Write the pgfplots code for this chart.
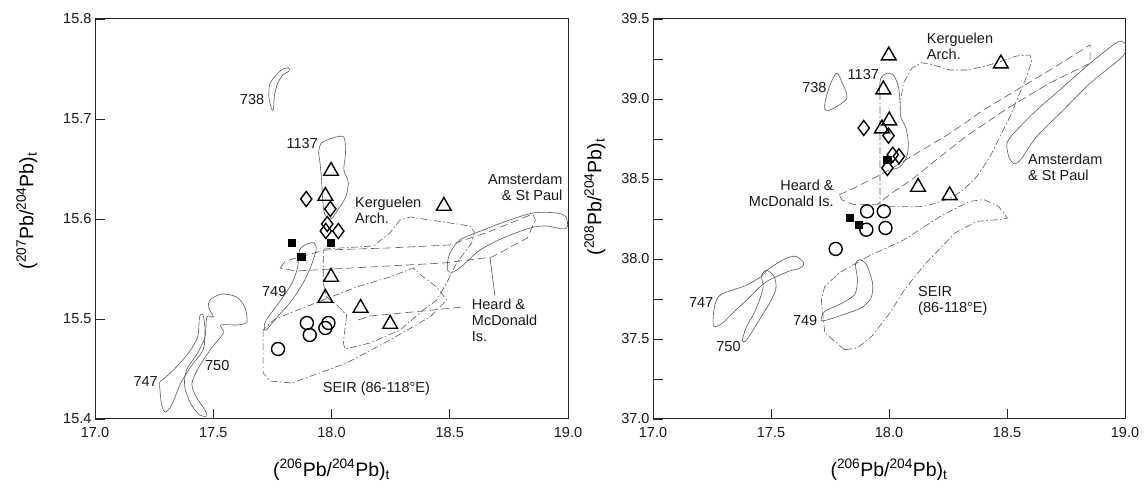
\documentclass[border=0pt]{standalone}
\usepackage{fontspec}
\setmainfont{Liberation Sans}
\usepackage{pgfplots}
\pgfplotsset{compat=1.18}
\begin{document}
\begin{tikzpicture}[
  field/.style={line width=0.6pt, black!65},
  dashdot/.style={field, dash pattern=on 7pt off 2.5pt on 1.5pt off 2.5pt},
  dashedf/.style={field, dash pattern=on 8pt off 4pt},
  lab/.style={font=\fontsize{14.5}{16}\selectfont, inner sep=0pt, text=black!90}
]
\useasboundingbox (0pt,0pt) rectangle (1145pt,489pt);
\pgfplotsset{
  panel/.style={
    scale only axis, width=473pt, height=400pt, anchor=south west,
    xmin=17, xmax=19, xtick={17,17.5,18,18.5,19},
    tick align=inside, tick pos=left,
    major tick length=10pt, minor tick length=10pt,
    axis line style={line width=1pt, black!85},
    tick style={line width=0.8pt, black!85},
    /pgf/number format/assume math mode=true,
    /pgf/number format/.cd, fixed, fixed zerofill, precision=1, /pgfplots/.cd,
    tick label style={font=\fontsize{14.5}{16}\selectfont, text=black!90},
    xticklabel style={yshift=-5pt},
    xlabel={(\textsuperscript{206}Pb/\textsuperscript{204}Pb)\textsubscript{t}},
    xlabel style={font=\fontsize{19.5}{21}\selectfont, at={(axis description cs:0.5,-0.1275)}, anchor=center},
    ylabel style={font=\fontsize{19.5}{21}\selectfont, anchor=center, rotate=0},
    tri/.style={only marks, mark=triangle, mark size=8.5pt, mark options={line width=1.4pt, black}},
    dia/.style={only marks, mark=diamond, mark size=7.5pt, mark options={line width=1.4pt, black}},
    cir/.style={only marks, mark=o, mark size=6.5pt, mark options={line width=1.4pt, black}},
    sqr/.style={only marks, mark=square*, mark size=3.6pt, mark options={black, fill=black}},
  }
}
% ---------------- left panel ----------------
\begin{axis}[panel, at={(95pt,70pt)},
  ymin=15.4, ymax=15.8, ytick={15.4,15.5,15.6,15.7,15.8},
  ylabel={(\textsuperscript{207}Pb/\textsuperscript{204}Pb)\textsubscript{t}},
  ylabel style={at={(axis description cs:-0.144,0.52)}}]
% 738
\addplot[field, smooth cycle] coordinates {(17.747,15.710)(17.735,15.722)(17.739,15.735)(17.763,15.743)(17.794,15.750)(17.818,15.751)(17.821,15.748)(17.794,15.744)(17.771,15.735)(17.758,15.722)(17.755,15.710)};
% 1137
\addplot[field, smooth cycle] coordinates {(17.958,15.676)(18.005,15.681)(18.052,15.682)(18.059,15.665)(18.052,15.649)(18.071,15.637)(18.060,15.622)(18.029,15.610)(17.998,15.600)(17.971,15.605)(17.962,15.622)(17.958,15.639)(17.952,15.655)(17.946,15.667)};
% 749
\addplot[field, smooth cycle] coordinates {(17.716,15.491)(17.724,15.499)(17.786,15.519)(17.833,15.536)(17.857,15.552)(17.865,15.569)(17.896,15.575)(17.927,15.576)(17.935,15.569)(17.912,15.552)(17.880,15.536)(17.833,15.519)(17.771,15.502)(17.724,15.489)};
% 747
\addplot[field, smooth cycle] coordinates {(17.273,15.436)(17.282,15.414)(17.298,15.407)(17.324,15.414)(17.363,15.436)(17.410,15.454)(17.457,15.469)(17.465,15.489)(17.457,15.504)(17.442,15.502)(17.434,15.482)(17.395,15.466)(17.332,15.449)(17.285,15.439)};
% 750
\addplot[field, smooth cycle] coordinates {(17.387,15.449)(17.379,15.433)(17.403,15.416)(17.442,15.404)(17.473,15.403)(17.465,15.409)(17.426,15.423)(17.410,15.436)(17.442,15.453)(17.496,15.472)(17.543,15.486)(17.532,15.494)(17.598,15.494)(17.642,15.497)(17.633,15.512)(17.598,15.522)(17.536,15.525)(17.486,15.519)(17.481,15.511)(17.501,15.502)(17.473,15.502)(17.465,15.482)(17.434,15.466)};
% Kerguelen Arch.
\addplot[dashdot, sharp plot] coordinates {(17.968,15.570)(18.177,15.573)(18.247,15.586)(18.290,15.599)(18.332,15.602)(18.586,15.593)(18.604,15.587)(18.593,15.576)(18.529,15.556)(18.487,15.536)(18.445,15.519)(18.388,15.509)(18.290,15.489)(18.163,15.476)(18.057,15.470)(18.050,15.476)(18.064,15.504)(18.022,15.514)(17.980,15.522)(17.965,15.536)(17.965,15.559)(17.968,15.570)};
% SEIR
\addplot[dashdot, sharp plot] coordinates {(17.711,15.489)(17.711,15.446)(17.740,15.438)(17.833,15.436)(18.064,15.456)(18.247,15.479)(18.416,15.502)(18.487,15.519)(18.445,15.532)(18.388,15.542)(18.346,15.551)(18.247,15.542)(18.106,15.532)(17.965,15.519)(17.825,15.506)(17.755,15.499)(17.711,15.489)};
% Heard & McDonald
\addplot[dashedf, sharp plot] coordinates {(17.783,15.551)(17.805,15.558)(17.974,15.569)(18.240,15.571)(18.499,15.574)(18.663,15.587)(18.851,15.605)(18.862,15.599)(18.828,15.581)(18.679,15.562)(18.475,15.556)(18.162,15.552)(17.849,15.548)(17.783,15.551)};
\addplot[dashedf, sharp plot] coordinates {(18.113,15.499)(18.163,15.503)(18.300,15.506)(18.557,15.512)};
\addplot[field, sharp plot] coordinates {(18.670,15.562)(18.691,15.523)};
% Amsterdam & St Paul
\addplot[field, smooth cycle] coordinates {(18.490,15.549)(18.498,15.564)(18.543,15.579)(18.642,15.589)(18.741,15.598)(18.853,15.606)(18.952,15.606)(18.992,15.602)(18.997,15.592)(18.973,15.590)(18.910,15.593)(18.839,15.591)(18.726,15.581)(18.628,15.569)(18.557,15.554)(18.515,15.547)};
% samples
\addplot[cir] coordinates {(17.896,15.496)(17.908,15.484)(17.987,15.496)(17.974,15.491)(17.774,15.470)};
\addplot[dia] coordinates {(17.893,15.620)(17.995,15.610)(17.982,15.595)(17.976,15.588)(18.029,15.588)};
\addplot[tri] coordinates {(17.998,15.648)(17.974,15.623)(18.475,15.613)(17.998,15.542)(17.974,15.521)(18.123,15.511)(18.248,15.495)};
\addplot[sqr] coordinates {(17.833,15.576)(17.872,15.562)(17.995,15.576)};
% labels
\node[lab, anchor=east] at (axis cs:17.716,15.719) {738};
\node[lab, anchor=east] at (axis cs:17.943,15.675) {1137};
\node[lab, anchor=east] at (axis cs:17.810,15.527) {749};
\node[lab, anchor=east] at (axis cs:17.266,15.437) {747};
\node[lab, anchor=west] at (axis cs:17.465,15.453) {750};
\node[lab, anchor=west, align=left] at (axis cs:18.099,15.609) {Kerguelen\\Arch.};
\node[lab, anchor=east, align=right] at (axis cs:18.977,15.632) {Amsterdam\\\& St Paul};
\node[lab, anchor=west, align=left] at (axis cs:18.593,15.499) {Heard \&\\McDonald\\Is.};
\node[lab, anchor=center] at (axis cs:18.190,15.430) {SEIR (86-118°E)};
\end{axis}
% ---------------- right panel ----------------
\begin{axis}[panel, at={(653pt,70pt)}, width=472pt,
  ymin=37, ymax=39.5, ytick={37,37.5,38,38.5,39,39.5},
  minor ytick={37.25,37.75,38.25,38.75,39.25},
  ylabel={(\textsuperscript{208}Pb/\textsuperscript{204}Pb)\textsubscript{t}},
  ylabel style={at={(axis description cs:-0.123,0.555)}}]
% 738
\addplot[field, smooth cycle] coordinates {(17.774,39.158)(17.751,39.090)(17.731,38.996)(17.728,38.938)(17.746,38.929)(17.792,38.965)(17.820,39.000)(17.820,39.037)(17.805,39.090)(17.786,39.152)};
% 1137
\addplot[field, smooth] coordinates {(17.959,39.036)(17.965,39.129)(17.990,39.160)(18.018,39.150)(18.040,39.077)(18.047,38.973)(18.050,38.890)(18.072,38.817)(18.082,38.723)(18.075,38.640)(18.047,38.577)(18.004,38.556)};
% 749
\addplot[field, smooth cycle] coordinates {(17.713,37.617)(17.728,37.673)(17.789,37.715)(17.854,37.777)(17.866,37.871)(17.858,37.965)(17.874,37.996)(17.904,37.965)(17.930,37.850)(17.924,37.756)(17.881,37.694)(17.805,37.652)(17.743,37.621)};
% 747
\addplot[field, smooth cycle] coordinates {(17.256,37.583)(17.261,37.704)(17.287,37.777)(17.391,37.833)(17.460,37.892)(17.490,37.938)(17.559,38.000)(17.605,38.017)(17.639,37.975)(17.624,37.944)(17.575,37.923)(17.521,37.888)(17.490,37.867)(17.452,37.825)(17.406,37.756)(17.345,37.673)(17.291,37.596)};
% 750
\addplot[field, smooth cycle] coordinates {(17.379,37.492)(17.394,37.569)(17.425,37.652)(17.452,37.746)(17.467,37.829)(17.460,37.892)(17.480,37.929)(17.513,37.892)(17.521,37.819)(17.498,37.735)(17.460,37.642)(17.421,37.548)(17.391,37.485)};
% Kerguelen Arch.
\addplot[dashdot, sharp plot] coordinates {(17.962,39.036)(17.962,38.327)(18.131,38.327)(18.174,38.338)(18.258,38.379)(18.315,38.431)(18.372,38.515)(18.428,38.639)(18.470,38.765)(18.513,38.890)(18.548,39.014)(18.583,39.140)(18.604,39.233)(18.597,39.275)(18.541,39.269)(18.470,39.233)(18.400,39.202)(18.329,39.181)(18.258,39.181)(18.188,39.213)(18.138,39.227)(18.096,39.192)(18.061,39.098)(18.047,38.973)};
% Heard & McDonald
\addplot[dashedf, sharp plot] coordinates {(17.789,38.402)(17.835,38.431)(17.976,38.536)(18.117,38.660)(18.258,38.785)(18.400,38.931)(18.541,39.056)(18.682,39.181)(18.852,39.338)(18.852,39.223)(18.680,39.100)(18.500,38.940)(18.330,38.770)(18.200,38.620)(18.100,38.500)(18.000,38.400)(17.950,38.340)(17.850,38.340)(17.800,38.370)(17.789,38.402)};
% SEIR
\addplot[dashdot, sharp plot] coordinates {(17.812,37.433)(17.728,37.538)(17.713,37.746)(17.728,37.829)(17.789,37.913)(17.912,38.017)(18.065,38.121)(18.218,38.267)(18.341,38.360)(18.402,38.371)(18.464,38.329)(18.502,38.256)(18.464,38.246)(18.372,38.235)(18.280,38.163)(18.157,37.975)(18.065,37.808)(18.004,37.663)(17.927,37.517)(17.866,37.444)(17.812,37.433)};
% Amsterdam & St Paul
\addplot[field, smooth cycle] coordinates {(18.499,38.702)(18.510,38.629)(18.534,38.594)(18.562,38.629)(18.626,38.765)(18.739,38.931)(18.852,39.098)(18.965,39.233)(19.000,39.286)(19.000,39.348)(18.972,39.358)(18.922,39.306)(18.852,39.223)(18.739,39.077)(18.626,38.931)(18.541,38.806)(18.506,38.744)};
% samples
\addplot[cir] coordinates {(17.907,38.298)(17.978,38.298)(17.904,38.183)(17.985,38.194)(17.774,38.063)};
\addplot[dia] coordinates {(17.893,38.819)(17.998,38.771)(18.016,38.652)(18.042,38.642)(17.993,38.569)};
\addplot[tri] coordinates {(17.999,39.271)(17.976,39.059)(18.001,38.865)(17.970,38.815)(18.123,38.450)(18.257,38.398)(18.474,39.221)};
\addplot[sqr] coordinates {(17.992,38.621)(17.832,38.256)(17.870,38.215)};
% labels
\node[lab, anchor=east] at (axis cs:17.736,39.069) {738};
\node[lab, anchor=east] at (axis cs:17.958,39.152) {1137};
\node[lab, anchor=west, align=left] at (axis cs:18.160,39.329) {Kerguelen\\Arch.};
\node[lab, anchor=west, align=left] at (axis cs:18.589,38.572) {Amsterdam\\\& St Paul};
\node[lab, anchor=east, align=right] at (axis cs:17.766,38.408) {Heard \&\\McDonald Is.};
\node[lab, anchor=west, align=left] at (axis cs:18.123,37.740) {SEIR\\(86-118°E)};
\node[lab, anchor=east] at (axis cs:17.697,37.617) {749};
\node[lab, anchor=east] at (axis cs:17.256,37.725) {747};
\node[lab, anchor=east] at (axis cs:17.372,37.450) {750};
\end{axis}
\end{tikzpicture}
\end{document}
